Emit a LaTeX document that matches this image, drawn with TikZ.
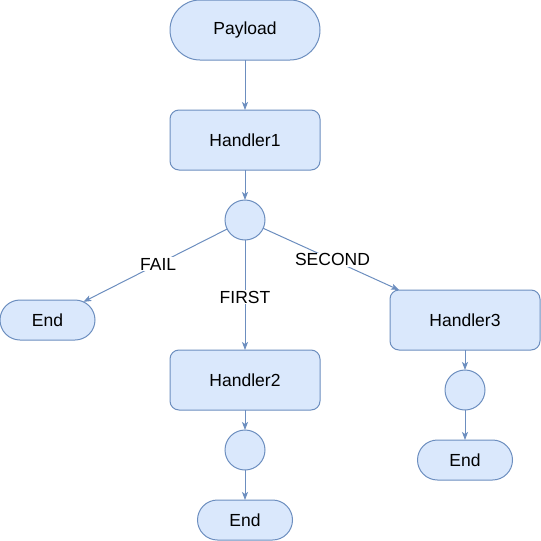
\documentclass[tikz,border=0pt]{standalone}
\usepackage{fontspec}
\setmainfont{Liberation Sans}
\usetikzlibrary{shapes.misc,arrows.meta}
\definecolor{bfill}{HTML}{DAE8FC}
\definecolor{bdraw}{HTML}{6C8EBF}
\begin{document}
\begin{tikzpicture}[x=1pt,y=-1pt,
  base/.style={draw=bdraw,fill=bfill,line width=1pt,inner sep=0pt,outer sep=0pt,font=\fontsize{17.5}{21}\selectfont},
  term/.style={base,rounded rectangle,minimum height=#1},
  term/.default=60,
  proc/.style={base,rectangle,rounded corners=9pt,minimum width=150pt,minimum height=60pt},
  junc/.style={base,circle,minimum size=40pt},
  conn/.style={draw=bdraw,line width=1pt,-{Stealth[length=8pt,width=6pt,inset=2pt]}},
  lbl/.style={fill=white,inner sep=1pt,font=\fontsize{17.5}{21}\selectfont}]
\useasboundingbox (0,0) rectangle (541,541);
\node[term, minimum width=150pt] (payload) at (245,30) {Payload};
\node[proc] (h1) at (245,140) {Handler1};
\node[junc] (c1) at (245,220) {};
\node[term=40, minimum width=95pt] (endL) at (47.5,320) {End};
\node[proc] (h2) at (245,380) {Handler2};
\node[junc] (c2) at (245,450) {};
\node[term=40, minimum width=95pt] (endB) at (245,520) {End};
\node[proc] (h3) at (465,320) {Handler3};
\node[junc] (c3) at (465,390) {};
\node[term=40, minimum width=95pt] (endR) at (465,460) {End};
\draw[conn] (payload) -- (h1);
\draw[conn] (h1) -- (c1);
\draw[conn] (c1) -- node[lbl,pos=0.48] {FAIL} (endL);
\draw[conn] (c1) -- node[lbl,pos=0.52] {FIRST} (h2);
\draw[conn] (c1) -- node[lbl,pos=0.51] {SECOND} (h3);
\draw[conn] (h2) -- (c2);
\draw[conn] (c2) -- (endB);
\draw[conn] (h3) -- (c3);
\draw[conn] (c3) -- (endR);
\end{tikzpicture}
\end{document}
